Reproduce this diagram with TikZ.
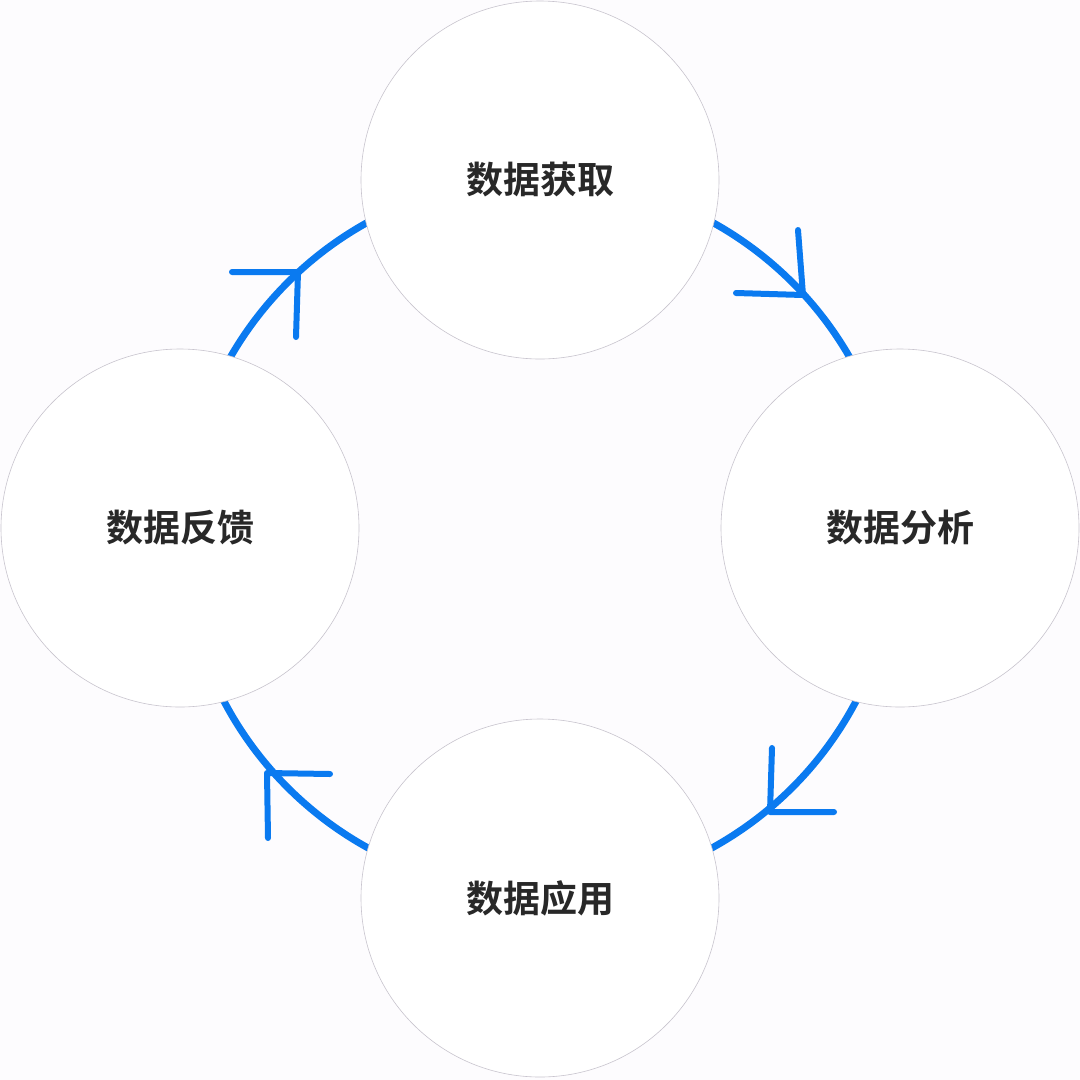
\documentclass[tikz,border=0pt]{standalone}
\usepackage{fontspec}
\newfontfamily\cjk{Noto Sans CJK SC}[BoldFont={* Bold}]
\definecolor{myblue}{RGB}{10,122,240}
\definecolor{bg}{RGB}{253,252,254}
\definecolor{rimgray}{RGB}{200,196,206}
\definecolor{txt}{RGB}{40,40,40}
\begin{document}
\begin{tikzpicture}[x=1pt,y=-1pt,
  ring/.style={draw=myblue,line width=7pt},
  chev/.style={draw=myblue,line width=6pt,line cap=round,line join=round},
  stage/.style={circle,minimum size=358pt,inner sep=0pt,fill=white,draw=rimgray,line width=0.6pt,font=\cjk\bfseries\fontsize{37}{44}\selectfont,text=txt}]
\fill[bg] (0,0) rectangle (1080,1080);
\useasboundingbox (0,0) rectangle (1080,1080);
\draw[ring] (540,535) circle (357);
\node[stage] (a) at (540,180) {数据获取};
\node[stage] (b) at (900,528) {数据分析};
\node[stage] (c) at (540,898) {数据应用};
\node[stage] (d) at (180,528) {数据反馈};
\coordinate (t1) at (803,295); \coordinate (t1a) at (798,230); \coordinate (t1b) at (736,293);
\coordinate (t2) at (770,812); \coordinate (t2a) at (772,748); \coordinate (t2b) at (834,812);
\coordinate (t3) at (267,773); \coordinate (t3a) at (330,774); \coordinate (t3b) at (268,838);
\coordinate (t4) at (298,272); \coordinate (t4a) at (232,272); \coordinate (t4b) at (296,337);
\draw[chev] (t1a) -- (t1) -- (t1b);
\draw[chev] (t2a) -- (t2) -- (t2b);
\draw[chev] (t3a) -- (t3) -- (t3b);
\draw[chev] (t4a) -- (t4) -- (t4b);
\end{tikzpicture}
\end{document}
